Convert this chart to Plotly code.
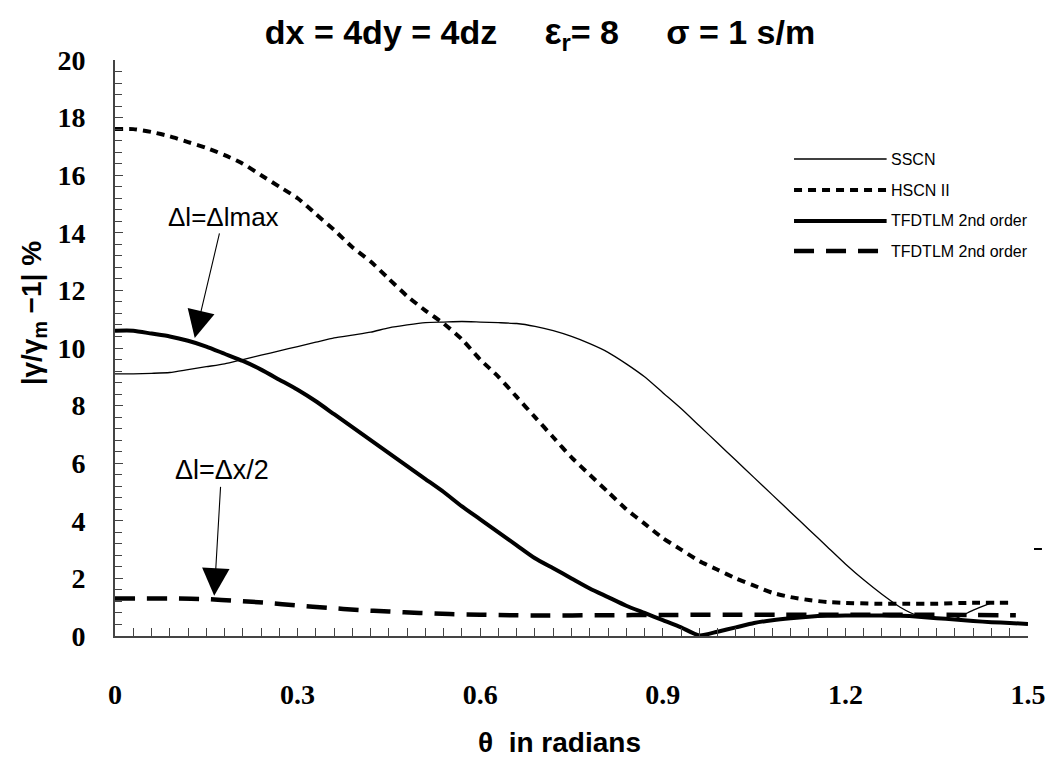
import plotly.graph_objects as go

# ---------------- data ----------------
sscn_x = [0, 0.03, 0.06, 0.09, 0.12, 0.15, 0.18, 0.21, 0.24, 0.27, 0.30, 0.33, 0.36, 0.39, 0.42,
          0.45, 0.48, 0.51, 0.54, 0.57, 0.60, 0.63, 0.66, 0.69, 0.72, 0.75, 0.78, 0.81, 0.84, 0.87,
          0.90, 0.93, 0.96, 0.99, 1.02, 1.05, 1.08, 1.11, 1.14, 1.17, 1.20, 1.23, 1.26, 1.29, 1.32,
          1.35, 1.38, 1.41, 1.44]
sscn_y = [9.1, 9.1, 9.12, 9.15, 9.25, 9.35, 9.45, 9.6, 9.75, 9.9, 10.05, 10.2, 10.35, 10.45, 10.55,
          10.7, 10.8, 10.88, 10.9, 10.92, 10.9, 10.88, 10.85, 10.75, 10.6, 10.4, 10.15, 9.85, 9.45, 9.0,
          8.45, 7.9, 7.3, 6.7, 6.1, 5.5, 4.9, 4.3, 3.7, 3.1, 2.5, 1.95, 1.45, 1.0, 0.7,
          0.6, 0.6, 0.9, 1.15]

hscn_x = [0, 0.03, 0.06, 0.09, 0.12, 0.15, 0.18, 0.21, 0.24, 0.27, 0.30, 0.33, 0.36, 0.39, 0.42,
          0.45, 0.48, 0.51, 0.54, 0.57, 0.60, 0.63, 0.66, 0.69, 0.72, 0.75, 0.78, 0.81, 0.84, 0.87,
          0.90, 0.93, 0.96, 0.99, 1.02, 1.05, 1.08, 1.11, 1.14, 1.17, 1.20, 1.25, 1.30, 1.35, 1.40, 1.47]
hscn_y = [17.6, 17.6, 17.5, 17.35, 17.15, 16.95, 16.7, 16.4, 16.0, 15.6, 15.2, 14.65, 14.1, 13.5, 13.0,
          12.4, 11.8, 11.3, 10.85, 10.3, 9.6, 9.0, 8.3, 7.6, 6.9, 6.2, 5.6, 5.0, 4.4, 3.9,
          3.4, 3.0, 2.6, 2.3, 2.0, 1.75, 1.5, 1.35, 1.25, 1.18, 1.15, 1.12, 1.12, 1.12, 1.15, 1.15]

tfd_max_x = [0, 0.03, 0.06, 0.09, 0.12, 0.15, 0.18, 0.21, 0.24, 0.27, 0.30, 0.33, 0.36, 0.39, 0.42,
             0.45, 0.48, 0.51, 0.54, 0.57, 0.60, 0.63, 0.66, 0.69, 0.72, 0.75, 0.78, 0.81, 0.84, 0.87,
             0.90, 0.93, 0.96, 0.99, 1.02, 1.05, 1.08, 1.11, 1.14, 1.17, 1.20, 1.23, 1.26, 1.29, 1.32,
             1.35, 1.38, 1.41, 1.44, 1.47, 1.50]
tfd_max_y = [10.6, 10.6, 10.5, 10.4, 10.25, 10.05, 9.8, 9.55, 9.25, 8.9, 8.55, 8.15, 7.7, 7.25, 6.8,
             6.35, 5.9, 5.45, 5.0, 4.5, 4.05, 3.6, 3.15, 2.7, 2.35, 2.0, 1.65, 1.35, 1.05, 0.8,
             0.55, 0.3, 0.02, 0.15, 0.3, 0.45, 0.55, 0.62, 0.67, 0.7, 0.71, 0.71, 0.71, 0.7, 0.67,
             0.62, 0.57, 0.52, 0.48, 0.45, 0.42]

tfd_half_x = [0, 0.05, 0.10, 0.15, 0.20, 0.25, 0.30, 0.35, 0.40, 0.45, 0.50, 0.55, 0.60, 0.65, 0.70,
              0.80, 0.90, 1.00, 1.10, 1.20, 1.30, 1.40, 1.48]
tfd_half_y = [1.3, 1.3, 1.3, 1.28, 1.22, 1.15, 1.06, 0.98, 0.9, 0.85, 0.8, 0.76, 0.74, 0.72, 0.71,
              0.72, 0.73, 0.74, 0.74, 0.74, 0.74, 0.73, 0.72]

series_names = ["SSCN", "HSCN II", "TFDTLM 2nd order", "TFDTLM 2nd order"]
x_tick_vals = [0, 0.3, 0.6, 0.9, 1.2, 1.5]
x_tick_text = ["0", "0.3", "0.6", "0.9", "1.2", "1.5"]
y_tick_vals = [0, 2, 4, 6, 8, 10, 12, 14, 16, 18, 20]

# ---------------- styles ----------------
styles = [
    dict(color="black", width=1.3, dash="solid"),
    dict(color="black", width=4, dash="8px,6px"),
    dict(color="black", width=4, dash="solid"),
    dict(color="black", width=4.5, dash="20px,12px"),
]
data = [(sscn_x, sscn_y), (hscn_x, hscn_y), (tfd_max_x, tfd_max_y), (tfd_half_x, tfd_half_y)]

fig = go.Figure()
for (xs, ys), name, st in zip(data, series_names, styles):
    fig.add_trace(go.Scatter(x=xs, y=ys, mode="lines", name=name, line=st,
                             showlegend=False, line_shape="spline", line_smoothing=0.6))

# manual legend (long line samples as in the original)
L, R, T, B = 115, 1032, 60, 636
W, H = R - L, B - T
def px(xp):
    return (xp - L) / W
def py(yp):
    return (B - yp) / H

SANS = "Liberation Sans, Arial"
SERIF = "Liberation Serif, Times New Roman"

leg_rows = [159, 190, 221, 251]
for row_y, name, st in zip(leg_rows, series_names, styles):
    fig.add_shape(type="line", xref="paper", yref="paper",
                  x0=px(797), x1=px(890), y0=py(row_y), y1=py(row_y),
                  line=dict(color="black", width=st["width"], dash=st["dash"]))
    fig.add_annotation(xref="paper", yref="paper", x=px(892), y=py(row_y),
                       text=name, showarrow=False, xanchor="left", yanchor="middle",
                       font=dict(family=SANS, size=16, color="black"))

# small stray mark at right edge
fig.add_shape(type="line", xref="paper", yref="paper", x0=px(1038), x1=px(1046),
              y0=py(549), y1=py(549), line=dict(color="black", width=2))

# annotations with arrows
fig.add_annotation(x=0.131, y=10.35, ax=0.178, ay=14.55, axref="x", ayref="y",
                   text="Δl=Δlmax", showarrow=True, arrowhead=2, arrowsize=5,
                   arrowwidth=1.1, arrowcolor="black", standoff=0,
                   font=dict(family=SANS, size=26, color="black"))
fig.add_annotation(x=0.163, y=1.4, ax=0.175, ay=5.75, axref="x", ayref="y",
                   text="Δl=Δx/2", showarrow=True, arrowhead=2, arrowsize=5,
                   arrowwidth=1.1, arrowcolor="black", standoff=0,
                   font=dict(family=SANS, size=27, color="black"))

# axis titles as annotations
fig.add_annotation(xref="paper", yref="paper", x=px(33), y=py(313), textangle=-90,
                   xanchor="center", yanchor="middle",
                   text="<b>|γ/γ<sub>m</sub> −1| %</b>", showarrow=False,
                   font=dict(family=SANS, size=28, color="black"))
fig.add_annotation(xref="paper", yref="paper", x=px(561), y=py(742),
                   xanchor="center", yanchor="middle",
                   text="<b>θ  in radians</b>", showarrow=False,
                   font=dict(family=SANS, size=28, color="black"))

fig.update_layout(
    width=1058, height=762,
    margin=dict(l=L, r=1058 - R, t=T, b=762 - B),
    paper_bgcolor="white", plot_bgcolor="white",
    title=dict(text="<b>dx = 4dy = 4dz     <span style='font-size:36px'>ε</span><sub>r</sub>= 8     σ = 1 s/m</b>",
               x=540 / 1058, y=1 - 32 / 762, xanchor="center", yanchor="middle",
               font=dict(family="Liberation Sans Narrow, Liberation Sans, Arial", size=34, color="black")),
)
fig.update_xaxes(range=[0, 1.5], showline=True, linecolor="#444", linewidth=2,
                 showgrid=False, zeroline=False, ticks="inside", ticklen=8, tickcolor="#444",
                 tickvals=x_tick_vals, ticktext=x_tick_text, ticklabelstandoff=32,
                 tickfont=dict(family=SERIF, size=28, color="black", weight="bold"),
                 minor=dict(dtick=0.03, tick0=0, ticks="inside", ticklen=8, tickcolor="#444"))
fig.update_yaxes(range=[0, 20], showline=True, linecolor="#444", linewidth=2,
                 showgrid=False, zeroline=False, ticks="inside", ticklen=8, tickcolor="#444",
                 tickvals=y_tick_vals, ticklabelstandoff=22,
                 tickfont=dict(family=SERIF, size=28, color="black", weight="bold"),
                 minor=dict(dtick=0.4, tick0=0, ticks="inside", ticklen=7, tickcolor="#444"))

fig.write_html("out.html")
